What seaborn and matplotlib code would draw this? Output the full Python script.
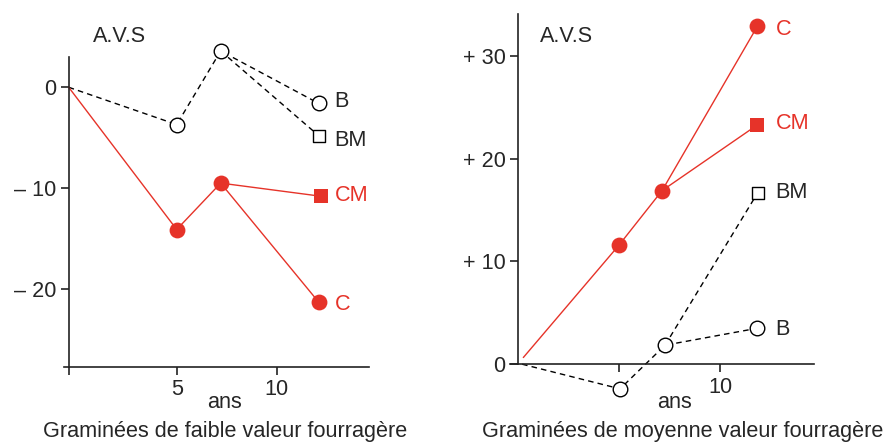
import matplotlib
matplotlib.use("Agg")
import matplotlib.pyplot as plt
import seaborn as sns

sns.set_style("white")
plt.rcParams['font.family'] = ['Liberation Sans', 'DejaVu Sans']

RED = '#e63329'
FS = 15.6

# Graminées de faible valeur fourragère
faible_ans = [-0.4, 5.0, 7.2, 12.1]
faible_B = [0, -3.7, 3.6, -1.6]
faible_C = [0, -14.1, -9.5, -21.3]
faible_BM_ans = [7.2, 12.1]
faible_BM = [3.6, -4.8]
faible_CM_ans = [7.2, 12.2]
faible_CM = [-9.5, -10.8]

# Graminées de moyenne valeur fourragère
moy_C_ans = [0.26, 5.0, 7.13, 11.85]
moy_C = [0.65, 11.6, 16.9, 32.9]
moy_CM_ans = [7.13, 11.85]
moy_CM = [16.9, 23.3]
moy_B_ans = [0.2, 5.05, 7.28, 11.85]
moy_B = [0, -2.4, 1.85, 3.5]
moy_BM_ans = [7.28, 11.87]
moy_BM = [1.85, 16.7]

faible_yticks = [0, -10, -20]
faible_ylabels = ['0', '– 10', '– 20']
moy_yticks = [0, 10, 20, 30]
moy_ylabels = ['0', '+ 10', '+ 20', '+ 30']

fig = plt.figure(figsize=(8.89, 4.42), dpi=100)
W, H = 889, 442


def px_axes(x0, y0, x1, y1):
    # pixel box (top-left origin) -> figure axes
    return fig.add_axes([x0 / W, (H - y1) / H, (x1 - x0) / W, (y1 - y0) / H])


def line(ax, xs, ys, color, dashed):
    sns.lineplot(x=xs, y=ys, ax=ax, color=color, lw=1.0,
                 linestyle=(0, (4, 3)) if dashed else '-', sort=False,
                 estimator=None, legend=False)


def dots(ax, xs, ys, marker, filled, size):
    sns.scatterplot(x=xs, y=ys, ax=ax, marker=marker, s=size,
                    color=RED if filled else 'white',
                    edgecolor=RED if filled else 'black',
                    linewidth=0 if filled else 1.0, zorder=5, clip_on=False,
                    legend=False)


def style(ax):
    for s in ['top', 'right']:
        ax.spines[s].set_visible(False)
    for s in ['left', 'bottom']:
        ax.spines[s].set_color('#222222')
        ax.spines[s].set_linewidth(1.2)
    ax.tick_params(axis='both', direction='out', length=6, width=1.2,
                   color='#222222', labelsize=FS, pad=3, left=True, bottom=True)
    ax.set_xlabel('')
    ax.set_ylabel('')
    ax.set_facecolor('none')


# left panel
ax1 = px_axes(64, 56.7, 369.3, 366.7)
line(ax1, faible_ans, faible_B, 'black', True)
line(ax1, faible_BM_ans, faible_BM, 'black', True)
line(ax1, faible_ans, faible_C, RED, False)
line(ax1, faible_CM_ans, faible_CM, RED, False)
dots(ax1, faible_ans[1:], faible_B[1:], 'o', False, 110)
dots(ax1, faible_BM_ans[1:], faible_BM[1:], 's', False, 75)
dots(ax1, faible_ans[1:], faible_C[1:], 'o', True, 130)
dots(ax1, faible_CM_ans[1:], faible_CM[1:], 's', True, 100)
ax1.set_xlim(-0.635, 14.63)
ax1.set_ylim(-27.7, 3.03)
style(ax1)
ax1.spines['left'].set_position(('data', -0.4))
ax1.set_xticks([-0.4, 5, 10], ['', '5', '10'])
ax1.set_yticks(faible_yticks, faible_ylabels)
ax1.text(12.9, faible_B[-1] + 0.14, 'B', fontsize=FS, va='center')
ax1.text(12.9, faible_BM[-1] - 0.43, 'BM', fontsize=FS, va='center')
ax1.text(12.9, faible_CM[-1] + 0.1, 'CM', fontsize=FS, va='center', color=RED)
ax1.text(12.9, faible_C[-1] - 0.2, 'C', fontsize=FS, va='center', color=RED)
fig.text(93 / W, 1 - 37 / H, 'A.V.S', fontsize=FS, va='center')
fig.text(224 / W, 1 - 403 / H, 'ans', fontsize=FS, ha='center', va='center')
fig.text(225 / W, 1 - 431 / H, 'Graminées de faible valeur fourragère',
         fontsize=FS, ha='center', va='center')

# right panel
ax2 = px_axes(510, 14, 814.3, 395)
line(ax2, moy_B_ans, moy_B, 'black', True)
line(ax2, moy_BM_ans, moy_BM, 'black', True)
line(ax2, moy_C_ans, moy_C, RED, False)
line(ax2, moy_CM_ans, moy_CM, RED, False)
dots(ax2, moy_B_ans[1:], moy_B[1:], 'o', False, 110)
dots(ax2, moy_BM_ans[1:], moy_BM[1:], 's', False, 75)
dots(ax2, moy_C_ans[1:], moy_C[1:], 'o', True, 130)
dots(ax2, moy_CM_ans[1:], moy_CM[1:], 's', True, 100)
ax2.set_xlim(-0.4, 14.67)
ax2.set_ylim(-3.0, 34.1)
style(ax2)
ax2.spines['left'].set_position(('data', 0))
ax2.spines['left'].set_bounds(0, 34.1)
ax2.spines['bottom'].set_position(('data', 0))
ax2.set_xticks([5, 10], ['', '10'])
ax2.set_yticks(moy_yticks, moy_ylabels)
ax2.text(12.75, moy_C[-1] - 0.3, 'C', fontsize=FS, va='center', color=RED)
ax2.text(12.75, moy_CM[-1] + 0.16, 'CM', fontsize=FS, va='center', color=RED)
ax2.text(12.75, moy_BM[-1], 'BM', fontsize=FS, va='center')
ax2.text(12.75, moy_B[-1] - 0.1, 'B', fontsize=FS, va='center')
fig.text(540 / W, 1 - 37 / H, 'A.V.S', fontsize=FS, va='center')
fig.text(674 / W, 1 - 403 / H, 'ans', fontsize=FS, ha='center', va='center')
fig.text(683 / W, 1 - 431 / H, 'Graminées de moyenne valeur fourragère',
         fontsize=FS, ha='center', va='center')

fig.savefig('out.png', dpi=100)
